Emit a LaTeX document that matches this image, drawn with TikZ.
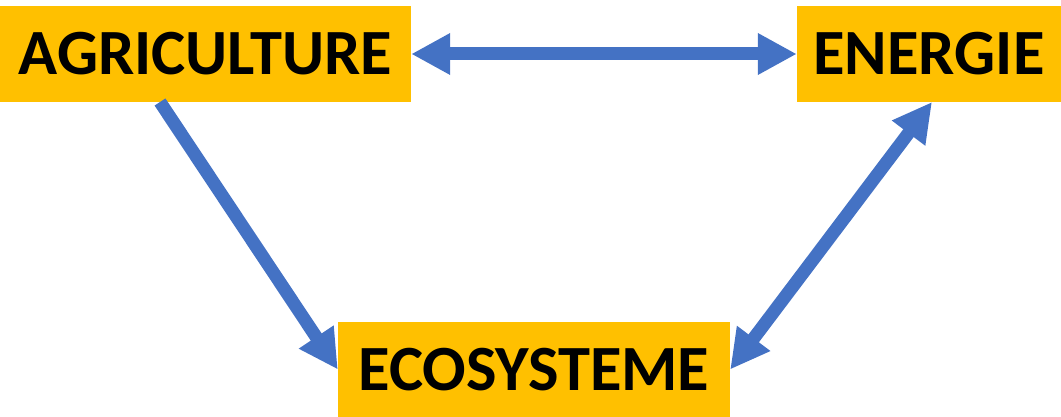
\documentclass[tikz,border=0pt]{standalone}
\usepackage{fontspec}
\setmainfont{Carlito}
\usetikzlibrary{arrows.meta}
\definecolor{boxorange}{HTML}{FFC000}
\definecolor{arrowblue}{HTML}{4472C4}
\tikzset{
  labelbox/.style={fill=boxorange, draw=none, inner sep=0pt, minimum height=96pt,
    font=\bfseries\fontsize{64.5pt}{70pt}\selectfont, text=black},
  bluearrow/.style={draw=arrowblue, line width=13pt,
    -{Triangle[width=39pt,length=39pt]}},
  bluedouble/.style={draw=arrowblue, line width=13pt,
    {Triangle[width=39pt,length=39pt]}-{Triangle[width=39pt,length=39pt]}}
}
\begin{document}
\begin{tikzpicture}[x=1pt,y=-1pt]
\useasboundingbox (0,0) rectangle (1061,417);
\node[labelbox, minimum width=411pt] (agri) at (205.5,54) {AGRICULTURE};
\node[labelbox, minimum width=264pt] (ener) at (929,54) {ENERGIE};
\node[labelbox, minimum width=392pt, minimum height=95pt] (eco) at (534,369.5) {ECOSYSTEME};
\coordinate (atail) at (160,102);
\coordinate (etip) at (932,102);
\draw[bluedouble] (agri.east) -- (ener.west);
\draw[bluearrow] (atail) -- (eco.west);
\draw[bluedouble] (etip) -- (eco.east);
\end{tikzpicture}
\end{document}
